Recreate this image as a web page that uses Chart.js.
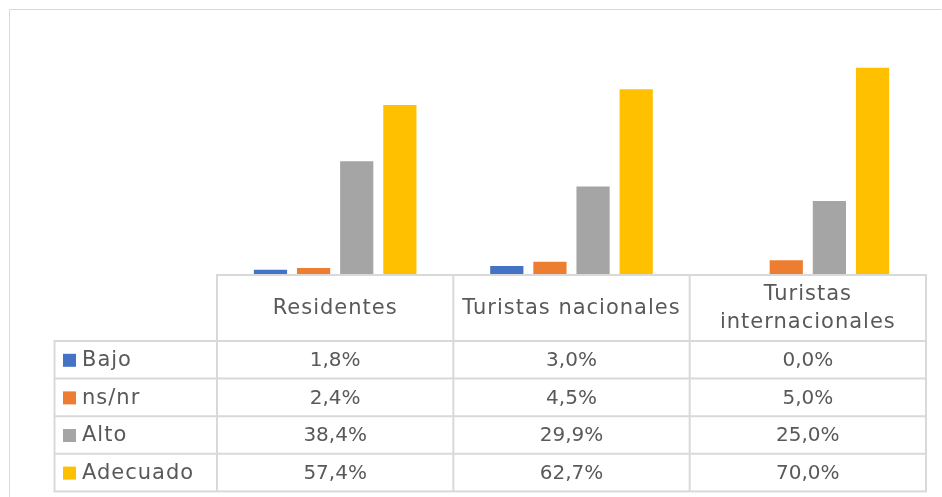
<!DOCTYPE html>
<html>
<head>
<meta charset="utf-8">
<script src="https://cdn.jsdelivr.net/npm/chart.js@4/dist/chart.umd.min.js"></script>
<style>
html,body{margin:0;padding:0;background:#fff;}
#wrap{width:942px;height:497px;position:relative;}
</style>
</head>
<body>
<div id="wrap"><canvas id="c" width="942" height="497"></canvas></div>
<script>
const categories = [["Residentes"], ["Turistas nacionales"], ["Turistas", "internacionales"]];
const seriesNames = ["Bajo", "ns/nr", "Alto", "Adecuado"];
const bajo = [1.8, 3.0, 0.0];
const nsnr = [2.4, 4.5, 5.0];
const alto = [38.4, 29.9, 25.0];
const adecuado = [57.4, 62.7, 70.0];
const colors = ["#4472C4", "#ED7D31", "#A5A5A5", "#FFC000"];
const seriesValues = [bajo, nsnr, alto, adecuado];

const FONT = "'DejaVu Sans', sans-serif";
const TEXT = "#595959";
const GRID = "#d9d9d9";

function fmt(v){ return v.toFixed(1).replace('.', ',') + '%'; }

const tablePlugin = {
  id: 'dataTable',
  afterDraw(chart){
    const ctx = chart.ctx;
    const xs = chart.scales.x;
    const area = chart.chartArea;
    const n = categories.length;
    const colW = (area.right - area.left) / n;
    const top = area.bottom;
    const headerH = 66;
    const rowH = 37.6;
    const legendLeft = 54.5;
    ctx.save();
    // outer chart border
    ctx.strokeStyle = GRID;
    ctx.lineWidth = 1;
    ctx.beginPath();
    ctx.moveTo(9.5, 600); ctx.lineTo(9.5, 9.5); ctx.lineTo(941.5, 9.5);
    ctx.stroke();

    ctx.lineWidth = 2;
    ctx.strokeStyle = GRID;
    // header box
    ctx.strokeRect(area.left, top, area.right - area.left, headerH);
    for (let i = 1; i < n; i++) {
      const x = area.left + colW * i;
      ctx.beginPath(); ctx.moveTo(x, top); ctx.lineTo(x, top + headerH + rowH * seriesNames.length); ctx.stroke();
    }
    // body rows
    const bodyTop = top + headerH;
    ctx.strokeRect(legendLeft, bodyTop, area.right - legendLeft, rowH * seriesNames.length);
    for (let r = 1; r < seriesNames.length; r++) {
      const y = bodyTop + rowH * r;
      ctx.beginPath(); ctx.moveTo(legendLeft, y); ctx.lineTo(area.right, y); ctx.stroke();
    }
    ctx.beginPath(); ctx.moveTo(area.left, bodyTop); ctx.lineTo(area.left, bodyTop + rowH * seriesNames.length); ctx.stroke();

    // header text
    ctx.fillStyle = TEXT;
    ctx.font = "21px " + FONT;
    ctx.letterSpacing = "1px";
    ctx.textAlign = 'center';
    ctx.textBaseline = 'middle';
    categories.forEach((lines, i) => {
      const cx = xs.getPixelForValue(i);
      const lh = 28;
      const cy = top + headerH / 2 + 1;
      lines.forEach((t, k) => {
        ctx.fillText(t, cx, cy + (k - (lines.length - 1) / 2) * lh);
      });
    });
    // rows
    seriesNames.forEach((name, r) => {
      const cy = bodyTop + rowH * r + rowH / 2 + 1;
      ctx.fillStyle = colors[r];
      ctx.fillRect(63, cy - 7, 13, 13);
      ctx.fillStyle = TEXT;
      ctx.textAlign = 'left';
      ctx.font = "21px " + FONT;
      ctx.letterSpacing = "1px";
      ctx.fillText(name, 82, cy);
      ctx.textAlign = 'center';
      ctx.font = "20px " + FONT;
      ctx.letterSpacing = "0px";
      seriesValues[r].forEach((v, i) => {
        ctx.fillText(fmt(v), xs.getPixelForValue(i), cy);
      });
    });
    ctx.restore();
  }
};

new Chart(document.getElementById('c'), {
  type: 'bar',
  data: {
    labels: categories.map(c => c.join(' ')),
    datasets: seriesNames.map((name, i) => ({
      label: name,
      data: seriesValues[i],
      backgroundColor: colors[i],
      borderWidth: 0,
      categoryPercentage: 0.73,
      barPercentage: 0.77
    }))
  },
  options: {
    responsive: false,
    animation: false,
    layout: { padding: { left: 217, right: 16, top: 38, bottom: 222 } },
    plugins: { legend: { display: false }, tooltip: { enabled: false } },
    scales: {
      x: { display: false },
      y: { display: false, min: 0, max: 80 }
    }
  },
  plugins: [tablePlugin]
});
</script>
</body>
</html>
